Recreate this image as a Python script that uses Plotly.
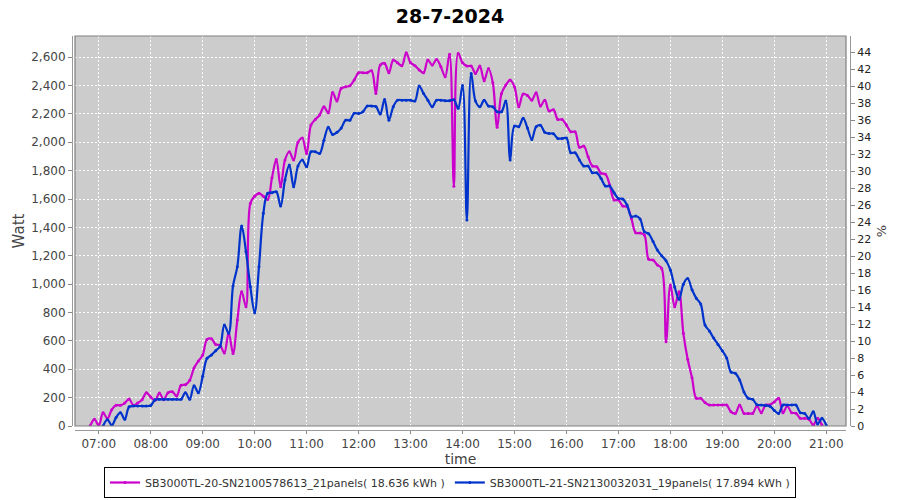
import pandas as pd
import plotly.graph_objects as go

# 5-minute samples from 06:45 to 21:05
times = pd.date_range("2024-07-28 06:45", "2024-07-28 21:05", freq="5min")

inv20_watt = [
    None, 0, 47, 5, 94, 52, 115, 146, 146, 162,
    190, 146, 162, 186, 235, 204, 181, 232, 186, 235,
    242, 211, 287, 291, 322, 409, 458, 500, 610, 615,
    575, 570, 515, 658, 512, 747, 947, 841, 1569, 1620,
    1640, 1620, 1597, 1750, 1879, 1687, 1875, 1933, 1875, 2000,
    2030, 1921, 2121, 2161, 2192, 2250, 2208, 2351, 2290, 2380,
    2391, 2398, 2440, 2490, 2490, 2490, 2504, 2344, 2544, 2556,
    2490, 2579, 2560, 2540, 2631, 2560, 2540, 2510, 2490, 2579,
    2544, 2584, 2532, 2462, 2621, 1690, 2626, 2560, 2537, 2537,
    2485, 2537, 2434, 2520, 2420, 2105, 2344, 2403, 2438, 2391,
    2250, 2340, 2330, 2297, 2349, 2255, 2297, 2220, 2230, 2161,
    2160, 2121, 2074, 2074, 1964, 1973, 1898, 1832, 1828, 1781,
    1775, 1698, 1593, 1593, 1550, 1546, 1463, 1362, 1360, 1346,
    1175, 1170, 1135, 1111, 594, 994, 841, 947, 653, 470,
    340, 195, 195, 165, 148, 148, 148, 148, 148, 100,
    89, 148, 89, 89, 89, 141, 94, 148, 150, 170,
    195, 94, 141, 94, 90, 54, 54, 47, 7, 54,
    7, None, None,
]

inv21_watt = [
    None, None, None, None, 0, 45, 5, 60, 94, 47,
    135, 141, 141, 141, 141, 145, 185, 188, 188, 188,
    188, 188, 188, 235, 188, 284, 235, 350, 477, 500,
    531, 560, 712, 653, 987, 1123, 1409, 1229, 982, 799,
    1123, 1499, 1640, 1645, 1651, 1550, 1734, 1839, 1687, 1832,
    1875, 1827, 1933, 1933, 1921, 2015, 2105, 2055, 2070, 2100,
    2156, 2156, 2205, 2203, 2215, 2255, 2255, 2252, 2199, 2302,
    2156, 2250, 2297, 2297, 2297, 2297, 2290, 2396, 2344, 2297,
    2250, 2297, 2297, 2293, 2293, 2300, 2239, 2400, 1452, 2485,
    2290, 2250, 2297, 2255, 2250, 2215, 2215, 2290, 1875, 2114,
    2110, 2170, 2100, 2020, 2110, 2120, 2070, 2062, 2060, 2027,
    2027, 2030, 1926, 1926, 1875, 1832, 1832, 1785, 1785, 1745,
    1691, 1691, 1644, 1604, 1600, 1557, 1475, 1480, 1460, 1370,
    1355, 1300, 1240, 1200, 1165, 1100, 980, 893, 1000, 1040,
    960, 900, 860, 712, 670, 620, 575, 530, 480, 380,
    372, 324, 240, 195, 188, 150, 148, 145, 140, 110,
    89, 148, 148, 148, 148, 94, 89, 54, 101, 14,
    54, 5, None,
]

names = [
    "SB3000TL-20-SN2100578613_21panels( 18.636 kWh )",
    "SB3000TL-21-SN2130032031_19panels( 17.894 kWh )",
]
colors = ["#CC00CC", "#0033CC"]

FONT = "DejaVu Sans"
AXIS_TXT = "#444444"

fig = go.Figure()
for name, vals, col in zip(names, [inv20_watt, inv21_watt], colors):
    fig.add_trace(go.Scatter(
        x=times, y=vals, name=name, mode="lines+markers",
        line=dict(color=col, width=2.2, shape="spline", smoothing=1),
        marker=dict(color=col, size=3),
    ))
# empty trace so the % axis gets drawn
fig.add_trace(go.Scatter(x=[times[0]], y=[None], yaxis="y2", showlegend=False, hoverinfo="skip"))

fig.update_layout(
    width=900, height=500,
    paper_bgcolor="white", plot_bgcolor="#CCCCCC",
    font=dict(family=FONT, size=12, color=AXIS_TXT),
    margin=dict(l=71.5, r=49.5, t=35.7, b=70, autoexpand=False),
    title=dict(text="<b>28-7-2024</b>", x=0.5, xanchor="center", y=0.968, yanchor="middle",
               font=dict(family=FONT, size=19, color="black")),
    showlegend=True,
    legend=dict(orientation="h", x=0.5, xanchor="center", xref="container",
                y=0.004, yanchor="bottom", yref="container",
                bordercolor="black", borderwidth=1, bgcolor="white", itemwidth=30,
                font=dict(family=FONT, size=11, color="#333333"), tracegroupgap=0),
    xaxis=dict(
        domain=[0.00385, 0.99487], anchor="free", position=0, automargin=False,
        type="date", range=["2024-07-28 06:32:33", "2024-07-28 21:22:48"],
        dtick=3600000, tickformat="%H:%M", ticks="outside", ticklen=3, tickcolor="#888888",
        showgrid=True, gridcolor="white", griddash="2px,2px", gridwidth=1,
        showline=True, linecolor="#999999", zeroline=False,
        title=dict(text="time", font=dict(family=FONT, size=14, color=AXIS_TXT), standoff=5),
        tickfont=dict(size=12, color=AXIS_TXT),
    ),
    yaxis=dict(
        domain=[0.0101, 1], anchor="free", position=0, automargin=False,
        range=[0, 2749], dtick=200, tickformat=",d", ticks="outside", ticklen=4, tickcolor="#888888",
        showgrid=True, gridcolor="white", griddash="2px,2px", gridwidth=1,
        showline=True, linecolor="#999999", zeroline=False,
        title=dict(text="Watt", font=dict(family=FONT, size=15, color=AXIS_TXT), standoff=1),
        tickfont=dict(size=12, color=AXIS_TXT),
    ),
    yaxis2=dict(
        overlaying="y", side="right", anchor="free", position=1, automargin=False,
        range=[0, 45.9], dtick=2, ticks="outside", ticklen=4, tickcolor="#888888",
        showgrid=False, zeroline=False, showline=True, linecolor="#999999",
        title=dict(text="%", font=dict(family=FONT, size=13, color=AXIS_TXT), standoff=6),
        tickfont=dict(size=11, color="#222222"),
    ),
    shapes=[dict(type="rect", xref="x domain", yref="y domain", x0=0, x1=1, y0=0, y1=1,
                 line=dict(color="#808080", width=1.2), layer="above")],
)

# drop the default 8px body margin so the 900x500 figure fills the window
fig.write_html("out.html", config={"displayModeBar": False},
               post_script="document.body.style.margin='0';")
